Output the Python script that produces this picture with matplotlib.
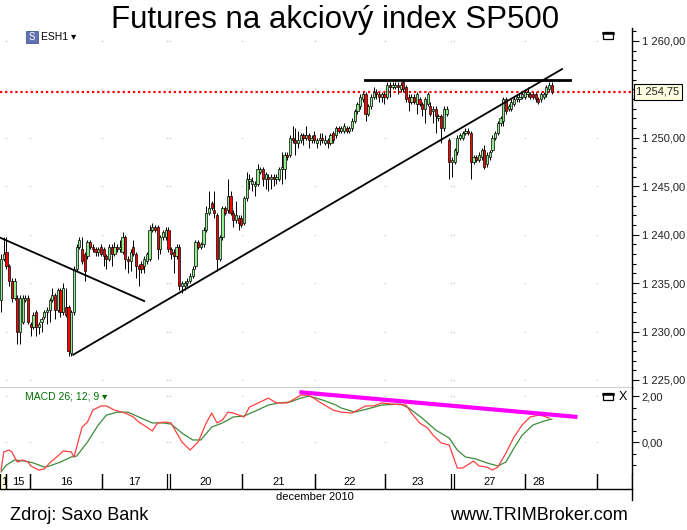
import numpy as np
import matplotlib
matplotlib.use("Agg")
import matplotlib.pyplot as plt
import matplotlib.transforms as mtransforms
from matplotlib.patches import Rectangle
from matplotlib.lines import Line2D
from matplotlib.ticker import MultipleLocator, FixedLocator, FuncFormatter

plt.rcParams['font.family'] = ['Liberation Sans', 'DejaVu Sans']

# ESH1 hodinove svicky (14.-28. prosince 2010)
opens = [1233.25, 1237.5, 1238.25, 1236.75, 1235.25, 1233.5, 1233.5, 1230.0, 1231.0, 1233.25,
         1233.5, 1230.75, 1230.5, 1232.0, 1230.5, 1231.0, 1231.5, 1232.0, 1232.25, 1233.25,
         1233.75, 1232.25, 1234.25, 1232.0, 1232.5, 1232.5, 1227.75, 1232.0, 1236.5, 1238.75,
         1238.5, 1238.0, 1237.75, 1239.25, 1238.75, 1238.5, 1238.25, 1238.75, 1238.5, 1237.75,
         1237.5, 1238.75, 1238.0, 1238.75, 1238.5, 1238.25, 1239.75, 1237.5, 1237.25,
         1238.75, 1238.0, 1236.75, 1237.0, 1236.75, 1237.25, 1237.5, 1240.5, 1240.75, 1240.75,
         1238.5, 1239.75, 1239.75, 1240.5, 1238.5, 1238.25, 1237.75, 1238.75, 1234.75, 1234.75,
         1235.0, 1235.25, 1235.75, 1236.75, 1239.25, 1238.75, 1239.0, 1240.5, 1242.25, 1243.25,
         1242.5, 1242.0, 1237.5, 1239.75, 1242.75, 1242.5, 1244.0, 1242.25, 1241.5, 1241.75,
         1241.75, 1241.25, 1243.75, 1245.5, 1245.25, 1245.0, 1245.25, 1246.5, 1246.75, 1245.75,
         1246.0, 1245.75, 1246.0, 1245.75, 1245.75, 1246.75, 1246.75, 1248.25, 1248.25, 1250.0,
         1249.75, 1249.5, 1249.75, 1250.25, 1250.0, 1250.25, 1249.75, 1250.25, 1249.5, 1249.75,
         1250.0, 1249.5, 1249.75, 1249.5, 1250.5, 1250.25, 1251.0, 1250.75, 1250.75, 1251.0,
         1250.75, 1251.0, 1251.75, 1252.75, 1253.25, 1254.0, 1254.5, 1252.5, 1253.25, 1254.25,
         1254.75, 1254.5, 1254.25, 1254.5, 1254.25, 1255.5, 1255.25, 1255.25, 1255.5, 1255.0,
         1255.75, 1255.25, 1254.25, 1253.75, 1254.25, 1253.5, 1254.0, 1253.5, 1253.0, 1253.5,
         1253.25, 1252.75, 1253.0, 1252.0, 1252.25, 1251.0, 1252.5, 1249.75, 1247.5,
         1247.5, 1248.5, 1250.0, 1250.0, 1250.5, 1250.75, 1250.5, 1247.5, 1248.0,
         1247.75, 1248.0, 1248.75, 1247.25, 1248.0, 1248.75, 1250.0, 1250.5, 1251.5, 1251.75,
         1254.0, 1253.0, 1253.0, 1253.5, 1254.0, 1254.0, 1254.25, 1254.25, 1254.5, 1254.5,
         1254.5, 1254.5, 1254.0, 1254.0, 1254.25, 1254.5, 1255.0, 1255.5]
highs = [1238.0, 1239.75, 1239.75, 1237.0, 1235.5, 1235.5, 1233.75, 1233.75, 1233.75, 1233.75,
         1233.75, 1231.0, 1232.0, 1232.25, 1231.0, 1231.5, 1232.25, 1232.5, 1233.5, 1234.5,
         1234.0, 1234.5, 1234.5, 1235.0, 1234.5, 1232.75, 1232.25, 1236.75, 1239.0, 1239.75,
         1239.75, 1238.25, 1239.5, 1239.5, 1239.0, 1238.75, 1238.75, 1239.0, 1238.75, 1238.0,
         1239.0, 1239.0, 1239.25, 1239.0, 1239.5, 1240.25, 1240.0, 1237.75, 1238.5,
         1239.5, 1238.25, 1237.0, 1237.25, 1237.75, 1238.25, 1241.0, 1241.25, 1241.0, 1241.0,
         1240.0, 1240.5, 1240.75, 1240.75, 1238.75, 1238.5, 1239.0, 1239.0, 1235.25, 1235.25,
         1235.5, 1236.0, 1236.75, 1239.5, 1239.5, 1239.25, 1240.75, 1243.0, 1244.5, 1243.5,
         1244.5, 1242.25, 1240.0, 1243.0, 1243.0, 1245.75, 1244.5, 1242.5, 1243.5, 1242.0,
         1242.0, 1244.0, 1246.5, 1246.25, 1246.0, 1245.5, 1247.25, 1247.0, 1247.0, 1246.5,
         1246.25, 1246.25, 1246.25, 1246.25, 1247.0, 1248.5, 1248.5, 1248.5, 1250.25, 1251.25,
         1251.0, 1250.75, 1250.5, 1250.5, 1251.25, 1250.5, 1250.25, 1250.75, 1250.0, 1250.5,
         1250.5, 1250.25, 1250.0, 1250.5, 1250.75, 1251.25, 1251.25, 1251.25, 1251.5, 1251.25,
         1251.25, 1252.0, 1253.0, 1253.75, 1254.5, 1254.75, 1254.75, 1253.5, 1254.5, 1255.25,
         1255.0, 1254.75, 1254.75, 1254.75, 1255.75, 1255.75, 1255.75, 1255.75, 1255.75, 1255.75,
         1256.0, 1255.5, 1254.5, 1254.5, 1254.5, 1254.75, 1254.25, 1253.75, 1254.25, 1254.75,
         1253.75, 1253.25, 1253.25, 1252.5, 1252.5, 1253.25, 1253.25, 1250.0, 1248.0,
         1249.0, 1250.25, 1250.5, 1250.75, 1251.0, 1251.0, 1250.75, 1248.25, 1248.25,
         1248.5, 1249.0, 1249.25, 1248.5, 1248.75, 1250.25, 1250.75, 1251.75, 1252.25, 1254.25,
         1254.25, 1253.5, 1254.0, 1254.25, 1254.5, 1254.5, 1254.75, 1255.0, 1255.25, 1254.75,
         1254.75, 1254.75, 1254.25, 1254.75, 1254.75, 1255.5, 1255.75, 1255.75]
lows = [1232.0, 1237.25, 1236.5, 1234.75, 1233.0, 1233.25, 1228.75, 1228.75, 1230.75, 1233.0,
        1230.75, 1229.5, 1230.25, 1229.5, 1229.75, 1230.0, 1231.25, 1230.75, 1231.0, 1233.0,
        1231.25, 1232.0, 1231.5, 1231.75, 1231.5, 1227.5, 1227.5, 1231.75, 1236.25, 1238.5,
        1237.0, 1235.25, 1237.5, 1238.5, 1238.25, 1237.75, 1237.75, 1237.75, 1236.75, 1236.5,
        1237.25, 1236.75, 1237.75, 1238.25, 1238.25, 1238.0, 1236.5, 1236.0, 1236.25,
        1237.75, 1235.5, 1234.75, 1236.0, 1236.0, 1237.0, 1237.25, 1240.25, 1240.25, 1237.5,
        1238.0, 1239.5, 1239.5, 1238.25, 1237.5, 1236.0, 1237.5, 1234.25, 1234.0, 1234.25,
        1234.75, 1235.0, 1235.5, 1236.5, 1238.5, 1238.5, 1238.75, 1240.25, 1242.0, 1242.5,
        1241.75, 1236.25, 1237.25, 1239.5, 1242.0, 1242.25, 1242.0, 1240.75, 1241.25, 1240.5,
        1240.75, 1241.0, 1243.5, 1244.75, 1244.5, 1244.0, 1245.0, 1246.25, 1245.0, 1244.75,
        1244.5, 1244.75, 1245.0, 1245.25, 1245.5, 1245.25, 1245.75, 1247.75, 1248.0, 1249.5,
        1248.25, 1249.0, 1249.5, 1249.25, 1249.75, 1249.0, 1249.5, 1249.5, 1249.0, 1249.25,
        1249.5, 1249.25, 1249.0, 1249.25, 1249.5, 1250.0, 1250.5, 1250.5, 1250.5, 1250.5,
        1250.5, 1250.75, 1251.5, 1252.5, 1253.0, 1253.75, 1251.75, 1252.25, 1253.0, 1254.0,
        1254.0, 1253.75, 1253.75, 1253.5, 1254.0, 1254.25, 1255.0, 1255.0, 1254.5, 1254.75,
        1254.75, 1253.75, 1252.75, 1253.5, 1253.5, 1252.5, 1253.25, 1252.25, 1251.5, 1253.25,
        1252.25, 1251.5, 1250.5, 1251.75, 1249.5, 1250.75, 1252.25, 1245.75, 1246.0,
        1247.25, 1248.25, 1249.75, 1249.75, 1250.25, 1250.25, 1245.75, 1247.25, 1247.5,
        1247.5, 1247.75, 1246.75, 1247.0, 1247.75, 1248.5, 1249.75, 1250.25, 1251.25, 1251.25,
        1252.5, 1252.75, 1252.75, 1253.25, 1253.75, 1253.75, 1254.0, 1254.0, 1254.25, 1254.0,
        1254.0, 1253.75, 1253.5, 1253.75, 1254.0, 1254.25, 1254.75, 1254.5]
closes = [1237.5, 1238.0, 1236.75, 1235.25, 1233.5, 1235.25, 1230.0, 1233.5, 1233.5, 1233.5,
          1231.0, 1230.5, 1231.75, 1230.5, 1230.75, 1231.25, 1232.0, 1232.25, 1233.25, 1233.75,
          1232.25, 1234.25, 1232.0, 1234.5, 1231.75, 1228.0, 1232.0, 1236.5, 1238.75, 1239.5,
          1237.25, 1236.25, 1239.25, 1238.75, 1238.5, 1238.25, 1238.5, 1238.0, 1237.75, 1237.5,
          1238.75, 1238.0, 1238.75, 1238.5, 1238.75, 1239.75, 1237.5, 1237.25, 1238.25,
          1238.0, 1236.75, 1236.5, 1236.5, 1237.5, 1238.0, 1240.5, 1240.75, 1240.5, 1238.5,
          1239.75, 1240.25, 1240.5, 1238.5, 1238.0, 1237.75, 1238.75, 1234.75, 1235.0, 1235.0,
          1235.25, 1235.75, 1236.5, 1239.25, 1238.75, 1239.0, 1240.5, 1242.25, 1242.75, 1242.75,
          1242.25, 1237.5, 1239.75, 1242.75, 1242.25, 1244.0, 1242.25, 1241.5, 1242.0, 1241.25,
          1241.0, 1243.75, 1245.75, 1245.75, 1245.5, 1245.25, 1246.75, 1246.75, 1245.75, 1246.25,
          1245.75, 1246.0, 1245.75, 1246.0, 1246.75, 1247.0, 1248.25, 1248.0, 1250.0, 1249.75,
          1249.5, 1249.75, 1250.25, 1250.0, 1250.25, 1249.75, 1250.0, 1249.75, 1249.75, 1250.0,
          1249.75, 1249.75, 1249.5, 1250.25, 1249.75, 1251.0, 1250.75, 1251.0, 1251.25, 1250.75,
          1251.0, 1251.75, 1252.75, 1253.5, 1254.25, 1254.5, 1252.5, 1253.25, 1254.25, 1254.75,
          1254.5, 1254.25, 1254.5, 1254.25, 1255.5, 1255.25, 1255.5, 1255.5, 1255.25, 1255.5,
          1255.0, 1254.0, 1253.75, 1254.25, 1253.75, 1254.5, 1253.5, 1253.0, 1254.0, 1254.5,
          1252.5, 1253.0, 1252.25, 1252.25, 1251.0, 1253.0, 1253.0, 1247.5, 1247.75,
          1248.75, 1250.0, 1250.25, 1250.5, 1250.75, 1250.5, 1247.5, 1248.0, 1247.75,
          1248.25, 1248.75, 1247.0, 1248.25, 1248.5, 1250.0, 1250.5, 1251.5, 1252.0, 1254.0,
          1252.75, 1253.25, 1253.75, 1254.0, 1254.25, 1254.25, 1254.5, 1254.75, 1254.75, 1254.25,
          1254.25, 1254.0, 1253.75, 1254.5, 1254.5, 1255.25, 1255.5, 1254.75]
last_price = 1254.75

# MACD 26;12;9 (cervena) a signal (zelena)
macd_idx = [0, 1, 3, 4, 6, 8, 10, 11, 14, 16, 18, 21, 23, 26, 27, 28, 30, 32, 34, 37,
            39, 42, 46, 49, 51, 54, 56, 58, 61, 63, 64, 67, 70, 73, 76, 78, 80, 82, 84, 86,
            90, 92, 96, 99, 102, 106, 108, 111, 114, 118, 123, 126, 130, 135, 138, 141, 145, 150, 152, 155,
            158, 160, 163, 166, 169, 171, 175, 177, 180, 182, 184, 187, 190, 193, 196, 199, 201, 203]
macd_vals = [-1.22, -0.43, -0.35, -0.43, -0.87, -0.78, -0.87, -1.04, -1.22, -1.17,
             -0.91, -0.61, -0.39, -0.43, -0.65, -0.22, 0.65, 0.87, 1.39, 1.57,
             1.57, 1.39, 1.26, 1.09, 0.87, 0.65, 0.48, 0.83, 0.87, 0.83,
             0.61, 0.0, -0.35, 0.0, 0.83, 1.26, 0.83, 0.96, 1.30, 1.26,
             1.09, 1.52, 1.74, 1.91, 1.70, 1.70, 1.83, 2.04, 2.04, 1.74,
             1.39, 1.30, 1.26, 1.57, 1.57, 1.70, 1.65, 1.61, 1.26, 0.83,
             0.61, 0.30, -0.04, -0.13, -1.13, -1.13, -0.83, -1.04, -1.09, -1.22,
             -1.09, -0.48, 0.22, 0.74, 1.09, 1.17, 1.13, 1.04]
sig_idx = [0, 2, 5, 9, 12, 16, 18, 22, 26, 28, 32, 36, 39, 43, 47, 51, 56, 60, 63, 67,
           71, 74, 78, 82, 86, 90, 95, 99, 103, 107, 111, 114, 119, 124, 126, 131, 137, 141, 148, 151,
           156, 161, 166, 169, 172, 176, 180, 184, 187, 190, 193, 197, 201, 204]
sig_vals = [-1.30, -1.0, -0.78, -0.83, -0.91, -1.09, -1.04, -0.87, -0.65, -0.61,
            0.0, 0.74, 1.17, 1.30, 1.30, 1.09, 0.83, 0.83, 0.78, 0.39,
            0.09, 0.09, 0.65, 0.83, 1.09, 1.13, 1.39, 1.61, 1.70, 1.74,
            1.91, 2.0, 1.83, 1.61, 1.48, 1.30, 1.48, 1.61, 1.65, 1.48,
            1.04, 0.52, 0.17, -0.35, -0.65, -0.74, -0.91, -1.04, -0.87, -0.26,
            0.30, 0.74, 0.91, 1.0]

# trendove cary (index svicky, cena)
down_x, down_y = [-0.4, 53.0], [1239.7, 1233.15]
up_x, up_y = [26.7, 207.8], [1227.6, 1257.1]
res_x, res_y = [134.8, 210.7], [1256.0, 1256.0]
macd_tr_x, macd_tr_y = [110.5, 213.5], [2.17, 1.09]

# dny na casove ose
day_names = ['14', '15', '16', '17', '20', '21', '22', '23', '27', '28', '']
day_start = [-0.4, 1.85, 10.7, 37.4, 62.6, 89.3, 116.3, 142.2, 167.8, 194.1, 220.7]
day_end = [1.85, 10.7, 37.4, 61.5, 89.3, 116.3, 142.2, 166.7, 194.1, 220.7, 233.7]

W, H = 687, 530
fig = plt.figure(figsize=(W / 100, H / 100), dpi=100)


def box(x0, y0, x1, y1):
    return [x0 / W, 1 - y1 / H, (x1 - x0) / W, (y1 - y0) / H]


def fpt(x, y):
    return x / W, 1 - y / H


ax = fig.add_axes(box(0, 28, 632, 388))
am = fig.add_axes(box(0, 388, 632, 474))
ad = fig.add_axes(box(0, 474, 632, 489))
for a in (ax, am, ad):
    a.set_xlim(-0.4, 233.7)
    a.tick_params(axis='x', bottom=False, labelbottom=False)
    a.spines['left'].set_visible(False)
    a.spines['top'].set_visible(False)
    for s in a.spines.values():
        s.set_linewidth(1.0)

# --- svicky ---
o = np.array(opens)
c = np.array(closes)
x = np.arange(len(closes))
up = c >= o
ax.vlines(x, lows, highs, color='black', lw=0.7, zorder=2)
ax.bar(x, np.abs(c - o), bottom=np.minimum(o, c), width=0.8,
       color=np.where(up, '#90ee90', '#ff0000'), edgecolor='black', linewidth=0.5, zorder=3)

ax.plot(down_x, down_y, color='black', lw=1.3, zorder=4)
ax.plot(up_x, up_y, color='black', lw=1.3, zorder=4)
ax.plot(res_x, res_y, color='black', lw=2.0, zorder=4)
ax.axhline(last_price, color='red', lw=1.6, linestyle=(0, (1, 1.3)), zorder=1)

# sedive krizky mrizky
grid_x = [e for e in sorted(set(day_start + day_end)) if -0.4 < e < 233.7]
for gy in range(1225, 1261, 5):
    ax.scatter(grid_x, [gy] * len(grid_x), marker='+', s=4, color='#d6d6d6', linewidths=0.5, zorder=0)
for gy in (0, 2):
    am.scatter(grid_x, [gy] * len(grid_x), marker='+', s=4, color='#d6d6d6', linewidths=0.5, zorder=0)


def price_fmt(v, p):
    # popisek 1 255 je schovany pod stitkem posledni ceny
    if abs(v - 1255) < 0.01:
        return ''
    return f"1 {int(round(v)) - 1000:03d},00"


ax.set_ylim(1224.17, 1261.34)
ax.yaxis.tick_right()
ax.yaxis.set_major_locator(MultipleLocator(5))
ax.yaxis.set_minor_locator(MultipleLocator(1))
ax.yaxis.set_major_formatter(FuncFormatter(price_fmt))
ax.tick_params(axis='y', which='major', length=5, width=0.8, pad=2, labelsize=8, labelcolor='#202020')
ax.tick_params(axis='y', which='minor', length=3, width=0.8)

tr = mtransforms.blended_transform_factory(ax.transAxes, ax.transData)
ax.text(1.007, last_price, '1 254,75', transform=tr, ha='left', va='center', fontsize=8,
        color='#202020', clip_on=False, zorder=10,
        bbox=dict(boxstyle='square,pad=0.25', fc='#ffffe1', ec='black', lw=0.8))

# --- MACD ---
am.plot(sig_idx, sig_vals, color='#3c8c3c', lw=0.9, zorder=3)
am.plot(macd_idx, macd_vals, color='#ff4040', lw=0.9, zorder=3)
am.plot(macd_tr_x, macd_tr_y, color='#ff00ff', lw=3, solid_capstyle='butt', zorder=4)
am.set_ylim(-1.39, 2.35)
am.spines['bottom'].set_visible(False)
am.yaxis.tick_right()
am.yaxis.set_major_locator(FixedLocator([0, 2]))
am.yaxis.set_minor_locator(MultipleLocator(0.5))
am.yaxis.set_major_formatter(FuncFormatter(lambda v, p: f"{v:.2f}".replace('.', ',')))
am.tick_params(axis='y', which='major', length=5, width=0.8, pad=2, labelsize=8, labelcolor='#202020')
am.tick_params(axis='y', which='minor', length=3, width=0.8)
am.text(0.04, 0.905, 'MACD 26; 12; 9 \u25be', transform=am.transAxes, color='#007000',
        fontsize=7.5, va='center', ha='left')

# --- casova osa ---
ad.set_ylim(0, 1)
ad.set_yticks([])
last_i = len(closes) - 1
for name, s, e in zip(day_names, day_start, day_end):
    ad.axvline(s, color='black', lw=0.9)
    ad.axvline(e, color='black', lw=0.9)
    if name == '14':
        ad.add_patch(Rectangle((s, 0), e - s, 1, fc='#ffffe1', ec='none', zorder=0))
        t = ad.text(s + 0.3, 0.45, name, ha='left', va='center', fontsize=8, clip_on=True)
        t.set_clip_box(mtransforms.TransformedBbox(
            mtransforms.Bbox([[s, 0], [e, 1]]), ad.transData))
    elif name:
        ad.text((s + min(e, last_i)) / 2, 0.45, name, ha='center', va='center', fontsize=8)

fig.add_artist(Line2D([632 / W, 632 / W], [1 - 489 / H, 1 - 500 / H], color='black', lw=1.0))
fig.text(*fpt(315, 497), 'december 2010', ha='center', va='center', fontsize=8)

# --- texty a ikonky ---
fig.text(*fpt(335, 20), 'Futures na akciový index SP500', ha='center', va='center', fontsize=22.5)
fig.text(*fpt(10, 516), 'Zdroj: Saxo Bank', ha='left', va='center', fontsize=13)
fig.text(*fpt(450, 516), 'www.TRIMBroker.com', ha='left', va='center', fontsize=13)

fig.add_artist(Rectangle(fpt(26, 43), 12 / W, 12 / H, transform=fig.transFigure,
                         fc='#6272b4', ec='#4a5890', lw=0.6))
fig.text(*fpt(32, 37), 'S', color='white', fontsize=7, ha='center', va='center')
fig.text(*fpt(41, 37), 'ESH1 \u25be', fontsize=7.5, ha='left', va='center')

for (bx, by) in [(603, 32), (603, 393)]:
    fig.add_artist(Rectangle(fpt(bx, by + 7), 10 / W, 7 / H, transform=fig.transFigure,
                             fill=False, ec='black', lw=0.9))
    fig.add_artist(Line2D([bx / W, (bx + 10) / W], [1 - (by + 0.8) / H] * 2, color='black', lw=1.8))
fig.text(*fpt(623, 396.5), 'X', fontsize=9, ha='center', va='center')

fig.savefig('out.png', dpi=100)
